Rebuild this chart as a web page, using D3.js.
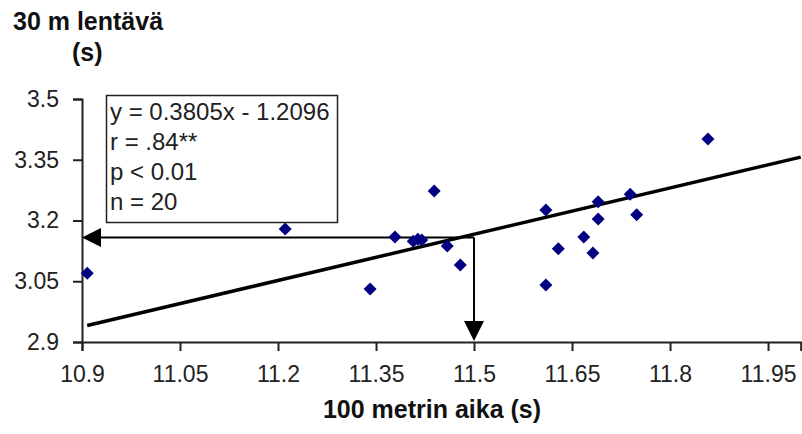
<!DOCTYPE html>
<html>
<head>
<meta charset="utf-8">
<script src="https://d3js.org/d3.v7.min.js"></script>
<style>
  body { margin: 0; background: #fff; }
  svg { display: block; font-family: Arial, 'Liberation Sans', sans-serif; }
</style>
</head>
<body>
<svg id="chart" width="802" height="434"></svg>
<script>
// 100 m time (s) vs 30 m flying time (s)
const sprint100 = [10.908, 11.211, 11.341, 11.379, 11.407, 11.414, 11.420, 11.439, 11.459, 11.479,
                   11.610, 11.610, 11.629, 11.668, 11.682, 11.690, 11.690, 11.739, 11.749, 11.858];
const flying30 = [3.070, 3.179, 3.031, 3.159, 3.149, 3.154, 3.152, 3.273, 3.137, 3.090,
                  3.226, 3.041, 3.130, 3.159, 3.120, 3.204, 3.246, 3.265, 3.214, 3.401];

const xTicks = [10.9, 11.05, 11.2, 11.35, 11.5, 11.65, 11.8, 11.95];
const yTicks = [2.9, 3.05, 3.2, 3.35, 3.5];
const statLines = ['y = 0.3805x - 1.2096', 'r = .84**', 'p < 0.01', 'n = 20'];
const slope = 0.3805;
const intercept = -1.2096;
const guide = { x: 11.5, y: 3.158 };

const svg = d3.select('#chart');

const x = d3.scaleLinear().domain([10.9, 12.0]).range([82, 800.7]);
const y = d3.scaleLinear().domain([2.9, 3.5]).range([342, 99]);

// axes
const xAxis = svg.append('g')
  .attr('transform', 'translate(0,' + y(2.9) + ')')
  .call(d3.axisBottom(x).tickValues(xTicks).tickFormat(d => String(+d.toFixed(2))).tickSize(9).tickPadding(15));
const yAxis = svg.append('g')
  .attr('transform', 'translate(' + x(10.9) + ',0)')
  .call(d3.axisLeft(y).tickValues(yTicks).tickFormat(d => String(+d.toFixed(2))).tickSize(9).tickPadding(14));

for (const ax of [xAxis, yAxis]) {
  ax.select('.domain').attr('stroke', '#222').attr('stroke-width', 2);
  ax.selectAll('.tick line').attr('stroke', '#222').attr('stroke-width', 2);
  ax.selectAll('.tick text')
    .attr('fill', '#222')
    .style('font-size', '23px')
    .style('font-family', 'Arial, "Liberation Sans", sans-serif');
}

// trendline
const xMin = d3.min(sprint100);
svg.append('line')
  .attr('x1', x(xMin)).attr('y1', y(slope * xMin + intercept))
  .attr('x2', x(12.0)).attr('y2', y(slope * 12.0 + intercept))
  .attr('stroke', '#000')
  .attr('stroke-width', 3.5);

// guide arrows
const gx = x(guide.x);
const gy = y(guide.y);
svg.append('path')
  .attr('d', `M${gx},${gy}H${x(10.9) + 16}M${gx},${gy}V${y(2.9) - 18}`)
  .attr('stroke', '#000')
  .attr('stroke-width', 2)
  .attr('fill', 'none');
svg.append('path')
  .attr('d', `M${x(10.9)},${gy}L${x(10.9) + 19},${gy - 9.5}L${x(10.9) + 19},${gy + 9.5}Z`)
  .attr('fill', '#000');
svg.append('path')
  .attr('d', `M${gx},${y(2.9) - 1}L${gx - 10},${y(2.9) - 21}L${gx + 10},${y(2.9) - 21}Z`)
  .attr('fill', '#000');

// points
svg.append('g')
  .selectAll('path')
  .data(sprint100.map((d, i) => [d, flying30[i]]))
  .enter().append('path')
    .attr('transform', d => 'translate(' + x(d[0]) + ',' + y(d[1]) + ')')
    .attr('d', 'M0,-6.5L6.5,0L0,6.5L-6.5,0Z')
    .attr('fill', '#000080');

// stats box
const box = svg.append('g');
box.append('rect')
  .attr('x', 106.5).attr('y', 95.5)
  .attr('width', 231).attr('height', 127)
  .attr('fill', '#fff')
  .attr('stroke', '#222')
  .attr('stroke-width', 1.5);
box.selectAll('text')
  .data(statLines)
  .enter().append('text')
    .attr('x', 110)
    .attr('y', (d, i) => 120 + i * 30)
    .attr('fill', '#222')
    .style('font-size', '24px')
    .text(d => d);

// titles
svg.append('text')
  .attr('x', 13).attr('y', 30)
  .style('font-size', '25px').style('font-weight', 'bold')
  .attr('fill', '#111')
  .text('30 m lentävä');
svg.append('text')
  .attr('x', 72).attr('y', 61)
  .style('font-size', '25px').style('font-weight', 'bold')
  .attr('fill', '#111')
  .text('(s)');
svg.append('text')
  .attr('x', 432).attr('y', 418)
  .attr('text-anchor', 'middle')
  .style('font-size', '25px').style('font-weight', 'bold')
  .attr('fill', '#111')
  .text('100 metrin aika (s)');
</script>
</body>
</html>
